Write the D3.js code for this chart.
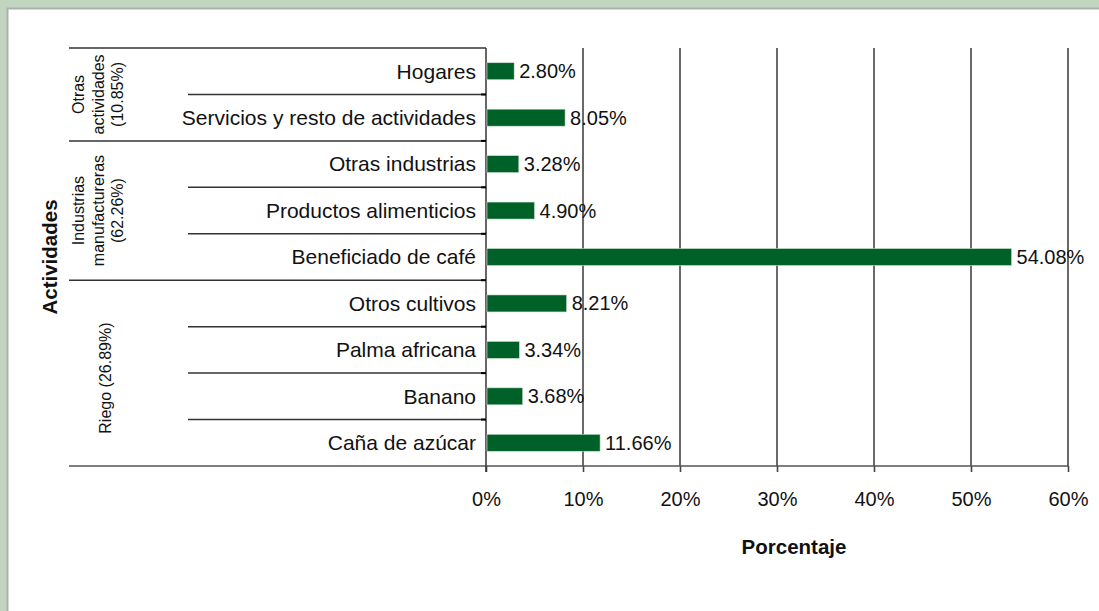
<!DOCTYPE html>
<html>
<head>
<meta charset="utf-8">
<script src="https://cdn.jsdelivr.net/npm/d3@7"></script>
<style>
  html, body { margin: 0; padding: 0; background: #c2d5c1; }
  svg { display: block; font-family: "Liberation Sans", Arial, sans-serif; }
</style>
</head>
<body>
<svg id="chart"></svg>
<script>
// categories, top to bottom
const categories = ['Hogares', 'Servicios y resto de actividades', 'Otras industrias',
  'Productos alimenticios', 'Beneficiado de café', 'Otros cultivos', 'Palma africana',
  'Banano', 'Caña de azúcar'];
const values = [2.80, 8.05, 3.28, 4.90, 54.08, 8.21, 3.34, 3.68, 11.66];

// groups: label lines and how many categories each spans
const groupLabels = [
  ['Otras', 'actividades', '(10.85%)'],
  ['Industrias', 'manufactureras', '(62.26%)'],
  ['Riego (26.89%)']
];
const groupSizes = [2, 3, 4];
const xTicks = [0, 10, 20, 30, 40, 50, 60];

const W = 1099, H = 611;
const svg = d3.select('#chart').attr('width', W).attr('height', H);

// white panel
svg.append('rect')
  .attr('x', 7.5).attr('y', 8.5)
  .attr('width', W).attr('height', H)
  .attr('fill', '#fff')
  .attr('stroke', '#a9b3a9')
  .attr('stroke-width', 2);

const x0 = 486, x1 = 1068, plotTop = 48, plotBottom = 466;

const x = d3.scaleLinear().domain([0, 60]).range([x0, x1]);
const y = d3.scaleBand().domain(categories).range([plotTop, plotBottom]);

// gridlines
svg.append('g')
  .selectAll('line')
  .data(xTicks.slice(1))
  .join('line')
  .attr('x1', d => x(d)).attr('x2', d => x(d))
  .attr('y1', plotTop).attr('y2', plotBottom)
  .attr('stroke', '#444')
  .attr('stroke-width', 1.6);

// x axis
const xAxis = d3.axisBottom(x)
  .tickValues(xTicks)
  .tickSize(6)
  .tickPadding(20)
  .tickFormat(d => d + '%');

const gx = svg.append('g')
  .attr('transform', `translate(0,${plotBottom})`)
  .call(xAxis);
gx.select('.domain').remove();
gx.selectAll('.tick line').attr('stroke', '#444').attr('stroke-width', 1.6);
gx.selectAll('.tick text')
  .attr('font-size', 20)
  .attr('fill', '#111')
  .attr('font-family', '"Liberation Sans", Arial, sans-serif');

// baseline across full width
svg.append('line')
  .attr('x1', 69).attr('x2', x1)
  .attr('y1', plotBottom).attr('y2', plotBottom)
  .attr('stroke', '#555').attr('stroke-width', 1.5);

// left vertical axis line
svg.append('line')
  .attr('x1', x0).attr('x2', x0)
  .attr('y1', plotTop).attr('y2', plotBottom + 6)
  .attr('stroke', '#333').attr('stroke-width', 1.5);

// group bounds
let idx = 0;
const groupBounds = [];
groupSizes.forEach(n => {
  groupBounds.push([idx, idx + n]);
  idx += n;
});

// top line
svg.append('line')
  .attr('x1', 69).attr('x2', x0)
  .attr('y1', plotTop).attr('y2', plotTop)
  .attr('stroke', '#333').attr('stroke-width', 1.5);

// category separators and group separators
categories.forEach((c, i) => {
  if (i === 0) return;
  const isGroupStart = groupBounds.some(b => b[0] === i);
  svg.append('line')
    .attr('x1', isGroupStart ? 69 : 188).attr('x2', x0)
    .attr('y1', y(c)).attr('y2', y(c))
    .attr('stroke', '#333').attr('stroke-width', 1.5);
  svg.append('line')
    .attr('x1', x0 - 5).attr('x2', x0)
    .attr('y1', y(c)).attr('y2', y(c))
    .attr('stroke', '#000').attr('stroke-width', 2);
});

// category labels
svg.append('g')
  .selectAll('text')
  .data(categories)
  .join('text')
  .attr('x', 476)
  .attr('y', d => y(d) + y.bandwidth() / 2)
  .attr('dy', '0.35em')
  .attr('text-anchor', 'end')
  .attr('font-size', 21)
  .attr('fill', '#111')
  .text(d => d);

// group labels (rotated)
groupBounds.forEach((b, gi) => {
  const yc = (y(categories[b[0]]) + y(categories[b[1] - 1]) + y.bandwidth()) / 2;
  const lines = groupLabels[gi];
  const lh = 19.5;
  const xc = lines.length > 1 ? 98 : 105;
  const t = svg.append('text')
    .attr('transform', `translate(${xc},${yc + (lines.length > 1 ? 0 : 5)}) rotate(-90)`)
    .attr('text-anchor', 'middle')
    .attr('font-size', 16)
    .attr('fill', '#111');
  lines.forEach((l, li) => {
    t.append('tspan')
      .attr('x', 0)
      .attr('y', (li - (lines.length - 1) / 2) * lh)
      .attr('dy', '0.35em')
      .text(l);
  });
});

// bars
const barH = 17;
svg.append('g')
  .selectAll('rect')
  .data(values)
  .join('rect')
  .attr('x', x(0) + 1)
  .attr('y', (d, i) => y(categories[i]) + y.bandwidth() / 2 - barH / 2)
  .attr('width', d => x(d) - x(0))
  .attr('height', barH)
  .attr('fill', '#006128')
  .attr('stroke', '#cfe3cf')
  .attr('stroke-width', 0.6);

// value labels
svg.append('g')
  .selectAll('text')
  .data(values)
  .join('text')
  .attr('x', d => x(d) + 6)
  .attr('y', (d, i) => y(categories[i]) + y.bandwidth() / 2)
  .attr('dy', '0.35em')
  .attr('font-size', 20)
  .attr('fill', '#111')
  .text(d => d.toFixed(2) + '%');

// axis titles
svg.append('text')
  .attr('x', 794).attr('y', 547)
  .attr('dy', '0.35em')
  .attr('text-anchor', 'middle')
  .attr('font-size', 20.5)
  .attr('font-weight', 'bold')
  .attr('fill', '#111')
  .text('Porcentaje');

svg.append('text')
  .attr('transform', `translate(50,257) rotate(-90)`)
  .attr('dy', '0.35em')
  .attr('text-anchor', 'middle')
  .attr('font-size', 20.5)
  .attr('font-weight', 'bold')
  .attr('fill', '#111')
  .text('Actividades');
</script>
</body>
</html>
